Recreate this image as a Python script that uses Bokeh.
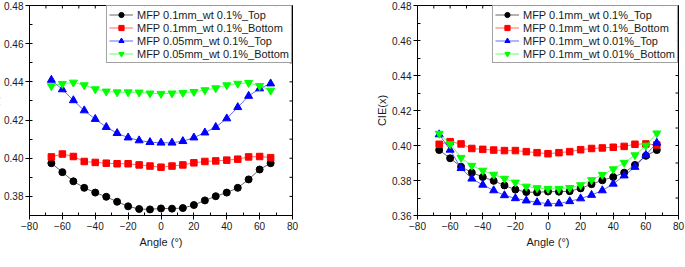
import numpy as np
from bokeh.plotting import figure
from bokeh.layouts import row
from bokeh.models import (Range1d, SingleIntervalTicker, NumeralTickFormatter, Label)
from bokeh.embed import file_html
from bokeh.resources import INLINE

# Viewing angle (degrees)
angles = [-66.7, -60.0, -53.3, -46.7, -40.0, -33.3, -26.7, -20.0, -13.3, -6.7, 0.0,
          6.7, 13.3, 20.0, 26.7, 33.3, 40.0, 46.7, 53.3, 60.0, 66.7]

# CIE(x) chromaticity coordinate for each sample
mfp_01mm_01_top = [0.3974, 0.3927, 0.3879, 0.3845, 0.3820, 0.3798, 0.3772, 0.3748, 0.3734, 0.3732, 0.3737,
                   0.3736, 0.3739, 0.3755, 0.3779, 0.3801, 0.3820, 0.3845, 0.3889, 0.3941, 0.3974]
mfp_01mm_01_bottom = [0.4007, 0.4022, 0.4009, 0.3983, 0.3978, 0.3974, 0.3971, 0.3971, 0.3965, 0.3959, 0.3953,
                      0.3959, 0.3965, 0.3976, 0.3983, 0.3986, 0.3990, 0.3995, 0.4007, 0.4009, 0.4003]
mfp_005mm_01_top = [0.4410, 0.4360, 0.4303, 0.4250, 0.4205, 0.4163, 0.4131, 0.4108, 0.4093, 0.4084, 0.4081,
                    0.4081, 0.4089, 0.4108, 0.4134, 0.4163, 0.4208, 0.4267, 0.4326, 0.4365, 0.4391]
mfp_005mm_01_bottom = [0.4378, 0.4390, 0.4397, 0.4383, 0.4362, 0.4350, 0.4346, 0.4346, 0.4345, 0.4340, 0.4338,
                       0.4340, 0.4343, 0.4348, 0.4357, 0.4367, 0.4383, 0.4391, 0.4395, 0.4379, 0.4355]
mfp_01mm_001_top = [0.4063, 0.3975, 0.3870, 0.3810, 0.3775, 0.3743, 0.3715, 0.3698, 0.3685, 0.3675, 0.3668,
                    0.3668, 0.3681, 0.3697, 0.3717, 0.3743, 0.3781, 0.3828, 0.3877, 0.3946, 0.4015]
mfp_01mm_001_bottom = [0.4068, 0.4008, 0.3930, 0.3885, 0.3857, 0.3834, 0.3811, 0.3789, 0.3766, 0.3757, 0.3753,
                       0.3753, 0.3758, 0.3774, 0.3803, 0.3833, 0.3865, 0.3902, 0.3945, 0.4000, 0.4070]

labels_a = ["MFP 0.1mm_wt 0.1%_Top", "MFP 0.1mm_wt 0.1%_Bottom",
            "MFP 0.05mm_wt 0.1%_Top", "MFP 0.05mm_wt 0.1%_Bottom"]
labels_b = ["MFP 0.1mm_wt 0.1%_Top", "MFP 0.1mm_wt 0.1%_Bottom",
            "MFP 0.1mm_wt 0.01%_Top", "MFP 0.1mm_wt 0.01%_Bottom"]

SANS = "Liberation Sans"
SERIF = "Liberation Serif"
TXT = "#1a1a1a"

MARKERS = [("circle", "#000000", 7), ("square", "#ff0000", 6.5),
           ("triangle", "#0000ff", 8), ("inverted_triangle", "#00ff00", 8)]


def make_panel(series, labels, y_lo, y_hi, width, frame_w, frame_h, left, top, caption, caption_px):
    right = width - left - frame_w
    bottom = 267 - top - frame_h
    p = figure(width=width, height=267, x_range=Range1d(-80, 80), y_range=Range1d(y_lo, y_hi),
               output_backend="svg", toolbar_location=None, title=None,
               min_border_left=left, min_border_right=right,
               min_border_top=top, min_border_bottom=bottom,
               background_fill_color="white", border_fill_color="white")
    p.grid.visible = False
    p.outline_line_color = "#000000"
    p.outline_line_width = 1

    p.xaxis.ticker = SingleIntervalTicker(interval=20, num_minor_ticks=2)
    p.yaxis.ticker = SingleIntervalTicker(interval=0.02, num_minor_ticks=2)
    p.yaxis.formatter = NumeralTickFormatter(format="0.00")
    for ax in (p.xaxis[0], p.yaxis[0]):
        ax.axis_line_color = "#000000"
        ax.major_tick_line_color = "#000000"
        ax.minor_tick_line_color = "#000000"
        ax.major_tick_in = 0
        ax.major_tick_out = 4
        ax.minor_tick_in = 3
        ax.minor_tick_out = 0
        ax.major_label_text_font = SANS
        ax.major_label_text_font_size = "10px"
        ax.major_label_text_color = TXT
        ax.major_label_standoff = 2
        ax.axis_label_text_font = SANS
        ax.axis_label_text_font_size = "11px"
        ax.axis_label_text_font_style = "normal"
        ax.axis_label_text_color = TXT
    p.xaxis.axis_label = "Angle (\u00b0)"
    p.xaxis.axis_label_standoff = 3
    p.yaxis.axis_label = "CIE(x)"
    p.yaxis.axis_label_standoff = 1

    # short inward tick marks along the top and right edges of the frame
    ux = 160.0 / frame_w
    uy = (y_hi - y_lo) / frame_h
    top_ticks = np.arange(-80, 81, 10)
    right_ticks = np.arange(y_lo, y_hi + 1e-9, 0.01)
    p.segment(x0=top_ticks, y0=np.full(len(top_ticks), y_hi),
              x1=top_ticks, y1=np.full(len(top_ticks), y_hi - 3 * uy),
              line_color="#000000", line_width=1)
    p.segment(x0=np.full(len(right_ticks), 80.0), y0=right_ticks,
              x1=np.full(len(right_ticks), 80.0 - 3 * ux), y1=right_ticks,
              line_color="#000000", line_width=1)

    for (marker, color, size), ys, lab in zip(MARKERS, series, labels):
        p.line(angles, ys, line_color=color, line_width=1, line_alpha=0.6, legend_label=lab)
        p.scatter(angles, ys, marker=marker, size=size, fill_color=color, line_color=color,
                  legend_label=lab)

    lg = p.legend[0]
    lg.location = "top_right"
    lg.margin = 0
    lg.padding = 2
    lg.spacing = 0
    lg.label_height = 13
    lg.glyph_height = 13
    lg.glyph_width = 24
    lg.label_standoff = 4
    lg.label_text_font = SANS
    lg.label_text_font_size = "11px"
    lg.label_text_color = TXT
    lg.border_line_color = "#444444"
    lg.border_line_width = 1
    lg.background_fill_color = "white"

    p.add_layout(Label(x=0, y=y_lo - caption_px * uy, text=caption, text_align="center",
                       text_baseline="middle", text_font=SERIF, text_font_size="11px",
                       text_color=TXT))
    return p


# the left panel is wider on its left side and shifted left, so that its
# y-axis title sits partly beyond the page edge
pa = make_panel([mfp_01mm_01_top, mfp_01mm_01_bottom, mfp_005mm_01_top, mfp_005mm_01_bottom],
                labels_a, 0.37, 0.48, width=360, frame_w=264, frame_h=212, left=43, top=3,
                caption="(a)", caption_px=43)
pa.margin = (0, 0, 0, -15)
pb = make_panel([mfp_01mm_01_top, mfp_01mm_01_bottom, mfp_01mm_001_top, mfp_01mm_001_bottom],
                labels_b, 0.36, 0.48, width=340, frame_w=261, frame_h=211, left=72, top=5,
                caption="(b)", caption_px=41)

layout = row(pa, pb)
open("out.html", "w").write(file_html(layout, INLINE))
